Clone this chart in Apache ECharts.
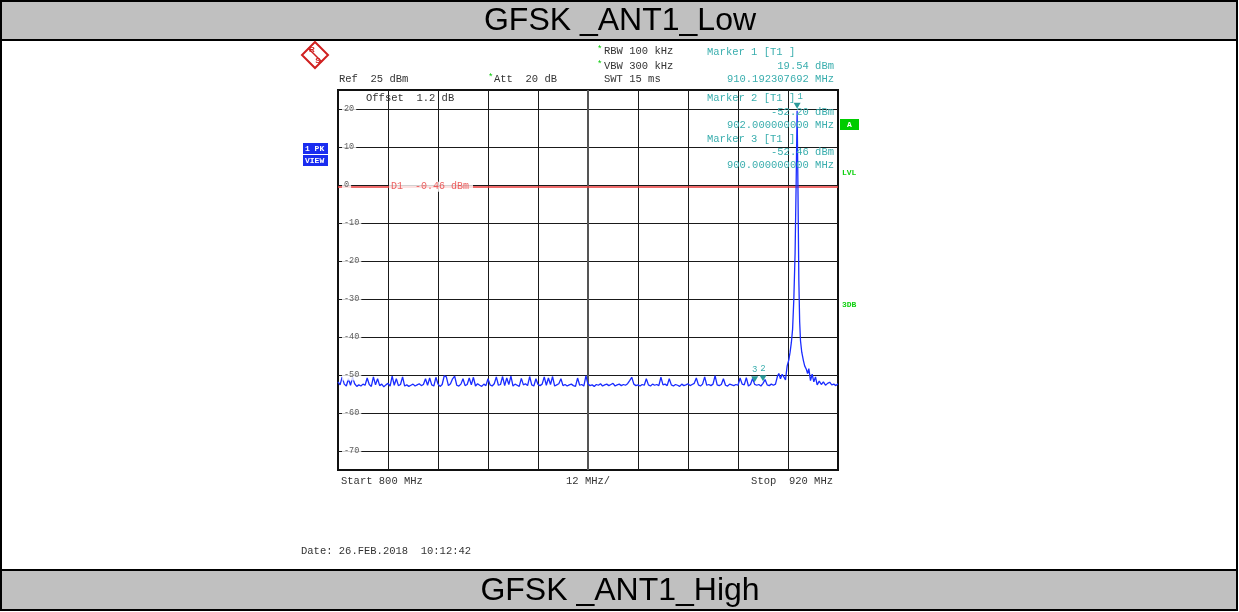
<!DOCTYPE html>
<html><head><meta charset="utf-8">
<script src="https://cdn.jsdelivr.net/npm/echarts@6/dist/echarts.min.js"></script>
<style>html,body{margin:0;padding:0;background:#fff}#c{width:1239px;height:612px}</style>
</head><body><div id="c"></div>
<script>
// ---------- data ----------
const titleTop = 'GFSK _ANT1_Low';
const titleBottom = 'GFSK _ANT1_High';
const freqStart = 800, freqStop = 920;
const levelMin = -75, levelMax = 25;
const xGridTicks = [812, 824, 836, 848, 872, 884, 896, 908];
const xCenterTick = 860;
const yTicks = [20, 10, 0, -10, -20, -30, -40, -50, -60, -70];
const yTickLabels = ['20', '10', '0', '-10', '-20', '-30', '-40', '-50', '-60', '-70'];
const displayLineLevel = -0.46;
const displayLineText = 'D1  -0.46 dBm';
const displayLineLabelFreq = 812;
const markerNames = ['1', '2', '3'];
const markerFreqs = [910.19, 902.0, 900.0];
const markerLevels = [19.54, -52.20, -52.46];

// trace: 800 ... 904.5 MHz, 0.5 MHz steps
const noiseLowStart = 800, noiseStep = 0.5;
const noiseLow = [
 -51.8, -52.6, -50.5, -52.4, -52.9, -51.0, -52.7, -50.6, -52.3, -53.0,
 -52.6, -52.9, -52.4, -52.7, -50.8, -52.5, -53.0, -50.5, -52.6, -51.0,
 -52.8, -52.4, -53.1, -52.6, -52.2, -52.9, -50.3, -52.7, -51.0, -52.8,
 -52.5, -50.5, -52.9, -52.6, -53.0, -52.7, -52.4, -52.9, -52.6, -52.3,
 -52.8, -52.5, -51.0, -52.7, -50.8, -52.6, -52.9, -50.6, -52.4, -53.0,
 -52.5, -50.2, -50.5, -52.8, -52.3, -51.0, -50.3, -52.7, -52.9, -52.4,
 -51.0, -52.8, -52.5, -50.8, -52.6, -50.6, -52.9, -52.3, -52.7, -53.0,
 -52.4, -52.8, -51.0, -52.6, -52.9, -52.3, -50.5, -52.7, -52.5, -50.4,
 -52.8, -50.8, -52.5, -50.3, -52.9, -52.4, -52.7, -53.0, -50.9, -52.6,
 -52.3, -52.8, -50.4, -52.6, -52.9, -51.0, -52.5, -52.8, -52.4, -50.5,
 -52.7, -50.8, -52.5, -50.4, -52.9, -52.6, -52.3, -51.0, -52.8, -52.5,
 -52.9, -52.6, -52.4, -52.8, -53.0, -50.8, -52.7, -52.5, -52.9, -50.2,
 -52.4, -52.8, -52.6, -53.0, -52.5, -52.7, -52.3, -52.9, -52.6, -52.4,
 -52.8, -52.5, -52.2, -52.9, -52.6, -52.4, -52.8, -52.5, -52.7, -52.3,
 -51.5, -50.6, -52.4, -52.8, -52.6, -52.9, -52.5, -52.7, -51.0, -52.6,
 -52.9, -52.4, -52.7, -52.5, -52.8, -50.6, -52.6, -52.4, -52.8, -51.0,
 -52.6, -52.9, -52.5, -52.7, -53.0, -52.4, -52.8, -52.6, -52.3, -52.8,
 -52.5, -52.2, -50.8, -52.6, -52.9, -52.4, -50.5, -52.7, -52.5, -52.8,
 -52.4, -50.2, -52.6, -52.8, -52.5, -51.0, -52.7, -52.9, -52.4, -52.6,
 -52.8, -52.5, -52.7, -50.8, -52.4, -52.6, -50.7, -52.9, -52.5, -50.9,
 -52.46, -52.7, -52.5, -52.9, -52.20, -51.2, -52.6, -52.8, -52.4, -52.7
];
// carrier region
const peakFreqs = [905.0, 905.5, 905.8, 906.2, 906.6, 907.0, 907.4, 907.8, 908.2, 908.5, 908.8, 909.1, 909.4, 909.7, 909.95, 910.19, 910.4, 910.6, 910.8, 911.0, 911.3, 911.7, 912.0, 912.4, 912.7, 913.0, 913.4, 913.8, 914.2, 914.6, 915.0];
const peakLevels = [-52.4, -50.2, -49.6, -51.0, -49.8, -50.5, -51.3, -47.6, -46.0, -44.0, -41.5, -38.0, -30.0, -18.0, 0.0, 19.54, -2.0, -25.0, -36.0, -41.0, -44.0, -46.2, -47.6, -48.5, -49.6, -48.3, -51.5, -49.8, -51.8, -50.5, -52.6];
// 915.5 ... 920 MHz
const noiseHighStart = 915.5;
const noiseHigh = [-51.6, -52.5, -51.8, -52.7, -52.2, -51.9, -52.6, -52.4, -52.8, -52.3];

// ---------- build ----------
const trace = [];
noiseLow.forEach((v, i) => trace.push([noiseLowStart + i * noiseStep, v]));
peakFreqs.forEach((f, i) => trace.push([f, peakLevels[i]]));
noiseHigh.forEach((v, i) => trace.push([noiseHighStart + i * noiseStep, v]));

const MONO = '"Liberation Mono", "DejaVu Sans Mono", monospace';
const TEAL = '#3aaeae';
const DARK = '#333';
const GREEN = '#00c800';

function txt(x, y, text, color, opt) {
  opt = opt || {};
  return {
    type: 'text', x: x, y: y, z: opt.z || 50,
    style: {
      text: text, fill: color || DARK,
      font: (opt.weight || 'normal') + ' ' + (opt.size || 10.5) + 'px ' + (opt.family || MONO),
      align: opt.align || 'left', verticalAlign: 'middle'
    }
  };
}

const graphics = [
  { type: 'rect', z: 1, shape: { x: 1, y: 1, width: 1236, height: 39 }, style: { fill: '#c0c0c0', stroke: '#000', lineWidth: 2 } },
  { type: 'rect', z: 1, shape: { x: 1, y: 570, width: 1236, height: 40 }, style: { fill: '#c0c0c0', stroke: '#000', lineWidth: 2 } },
  { type: 'rect', z: 2, shape: { x: 1, y: 1, width: 1236, height: 609 }, style: { fill: 'none', stroke: '#000', lineWidth: 2 } },
  txt(620, 21, titleTop, '#000', { size: 32, family: '"Liberation Sans", Arial, sans-serif', align: 'center' }),
  txt(620, 591, titleBottom, '#000', { size: 32, family: '"Liberation Sans", Arial, sans-serif', align: 'center' }),
  // R&S logo
  { type: 'polygon', z: 5, shape: { points: [[315, 42], [328, 55], [315, 68], [302, 55]] }, style: { fill: 'none', stroke: '#d02020', lineWidth: 2 } },
  { type: 'line', z: 5, shape: { x1: 308, y1: 48, x2: 322, y2: 62 }, style: { stroke: '#d02020', lineWidth: 1.5 } },
  txt(312, 50, 'R', '#d02020', { size: 8, weight: 'bold', family: 'Arial, sans-serif', align: 'center' }),
  txt(318, 61, 'S', '#d02020', { size: 8, weight: 'bold', family: 'Arial, sans-serif', align: 'center' }),
  // header
  txt(339, 79, 'Ref  25 dBm', DARK),
  txt(488, 78, '*', GREEN, { size: 9 }),
  txt(494, 79, 'Att  20 dB', DARK),
  txt(597, 50, '*', GREEN, { size: 9 }),
  txt(604, 51, 'RBW 100 kHz', DARK),
  txt(597, 65, '*', GREEN, { size: 9 }),
  txt(604, 66, 'VBW 300 kHz', DARK),
  txt(604, 79, 'SWT 15 ms', DARK),
  txt(707, 52, 'Marker 1 [T1 ]', TEAL),
  txt(834, 66, '19.54 dBm', TEAL, { align: 'right' }),
  txt(834, 79, '910.192307692 MHz', TEAL, { align: 'right' }),
  // inside plot
  txt(366, 98, 'Offset  1.2 dB', DARK),
  txt(707, 98, 'Marker 2 [T1 ]', TEAL),
  txt(834, 112, '-52.20 dBm', TEAL, { align: 'right' }),
  txt(834, 125, '902.000000000 MHz', TEAL, { align: 'right' }),
  txt(707, 139, 'Marker 3 [T1 ]', TEAL),
  txt(834, 152, '-52.46 dBm', TEAL, { align: 'right' }),
  txt(834, 165, '900.000000000 MHz', TEAL, { align: 'right' }),
  // side boxes
  { type: 'rect', z: 5, shape: { x: 303, y: 143, width: 25, height: 11 }, style: { fill: '#1a2cf0' } },
  { type: 'rect', z: 5, shape: { x: 303, y: 155, width: 25, height: 11 }, style: { fill: '#1a2cf0' } },
  txt(305, 149, '1 PK', '#fff', { size: 8, weight: 'bold' }),
  txt(305, 161, 'VIEW', '#fff', { size: 8, weight: 'bold' }),
  { type: 'rect', z: 5, shape: { x: 840, y: 119, width: 19, height: 11 }, style: { fill: '#00cc00' } },
  txt(849.5, 125, 'A', '#fff', { size: 8, weight: 'bold', align: 'center' }),
  txt(842, 173, 'LVL', '#10d010', { size: 8, weight: 'bold' }),
  txt(842, 305, '3DB', '#10d010', { size: 8, weight: 'bold' }),
  // bottom
  txt(341, 481, 'Start 800 MHz', DARK),
  txt(566, 481, '12 MHz/', DARK),
  txt(833, 481, 'Stop  920 MHz', DARK, { align: 'right' }),
  txt(301, 551, 'Date: 26.FEB.2018  10:12:42', DARK)
];

const gridLines = yTicks.map(v => ({ yAxis: v }))
  .concat(xGridTicks.map(v => ({ xAxis: v })))
  .concat([{ xAxis: xCenterTick, lineStyle: { color: '#555', width: 2 } }]);

const chart = echarts.init(document.getElementById('c'), null, { renderer: 'canvas' });
chart.setOption({
  animation: false,
  backgroundColor: '#fff',
  grid: { left: 338, top: 90, width: 500, height: 380, show: true, borderColor: '#111', borderWidth: 2, backgroundColor: 'transparent' },
  xAxis: { type: 'value', min: freqStart, max: freqStop, axisLine: { show: false }, axisTick: { show: false }, axisLabel: { show: false }, splitLine: { show: false } },
  yAxis: { type: 'value', min: levelMin, max: levelMax, axisLine: { show: false }, axisTick: { show: false }, axisLabel: { show: false }, splitLine: { show: false } },
  graphic: graphics,
  series: [
    {
      name: 'gridlines', type: 'scatter', z: 1, silent: true,
      data: yTicks.map(v => [freqStart, v]),
      symbolSize: 0,
      markLine: { z: 1, silent: true, symbol: ['none', 'none'], label: { show: false }, lineStyle: { color: '#1a1a1a', width: 1, type: 'solid' }, data: gridLines }
    },
    {
      name: 'trace', type: 'line', z: 3, data: trace, showSymbol: false, silent: true,
      lineStyle: { color: '#1a2cff', width: 1.3 },
      markLine: { z: 2, silent: true, symbol: ['none', 'none'], label: { show: false }, lineStyle: { color: '#e83a3a', width: 1.5, type: 'solid' }, data: [{ yAxis: displayLineLevel }] },
      markPoint: {
        z: 6, silent: true, symbol: 'triangle', symbolRotate: 180, symbolSize: [7, 6], symbolOffset: [0, -5],
        itemStyle: { color: '#2a9a9a' },
        label: { show: true, position: 'top', distance: 2, color: TEAL, fontFamily: MONO, fontSize: 9, formatter: p => p.name },
        data: markerNames.map((n, i) => ({ name: n, coord: [markerFreqs[i], markerLevels[i]], label: i === 0 ? { offset: [3, 0] } : {} }))
      }
    },
    {
      name: 'ylabels', type: 'scatter', z: 10, silent: true,
      data: yTicks.map((v, i) => ({ value: [freqStart, v], name: yTickLabels[i] })),
      symbolSize: 0,
      label: { show: true, position: 'right', distance: 4, formatter: p => p.name, color: '#333', fontFamily: MONO, fontSize: 8.5, backgroundColor: '#fff', padding: [1, 2] }
    },
    {
      name: 'd1label', type: 'scatter', z: 10, silent: true,
      data: [{ value: [displayLineLabelFreq, displayLineLevel], name: displayLineText }],
      symbolSize: 0,
      label: { show: true, position: 'right', distance: 1, formatter: p => p.name, color: '#e83a3a', fontFamily: MONO, fontSize: 10, backgroundColor: '#fff', padding: [0, 4, 0, 2] }
    }
  ]
});
</script></body></html>
